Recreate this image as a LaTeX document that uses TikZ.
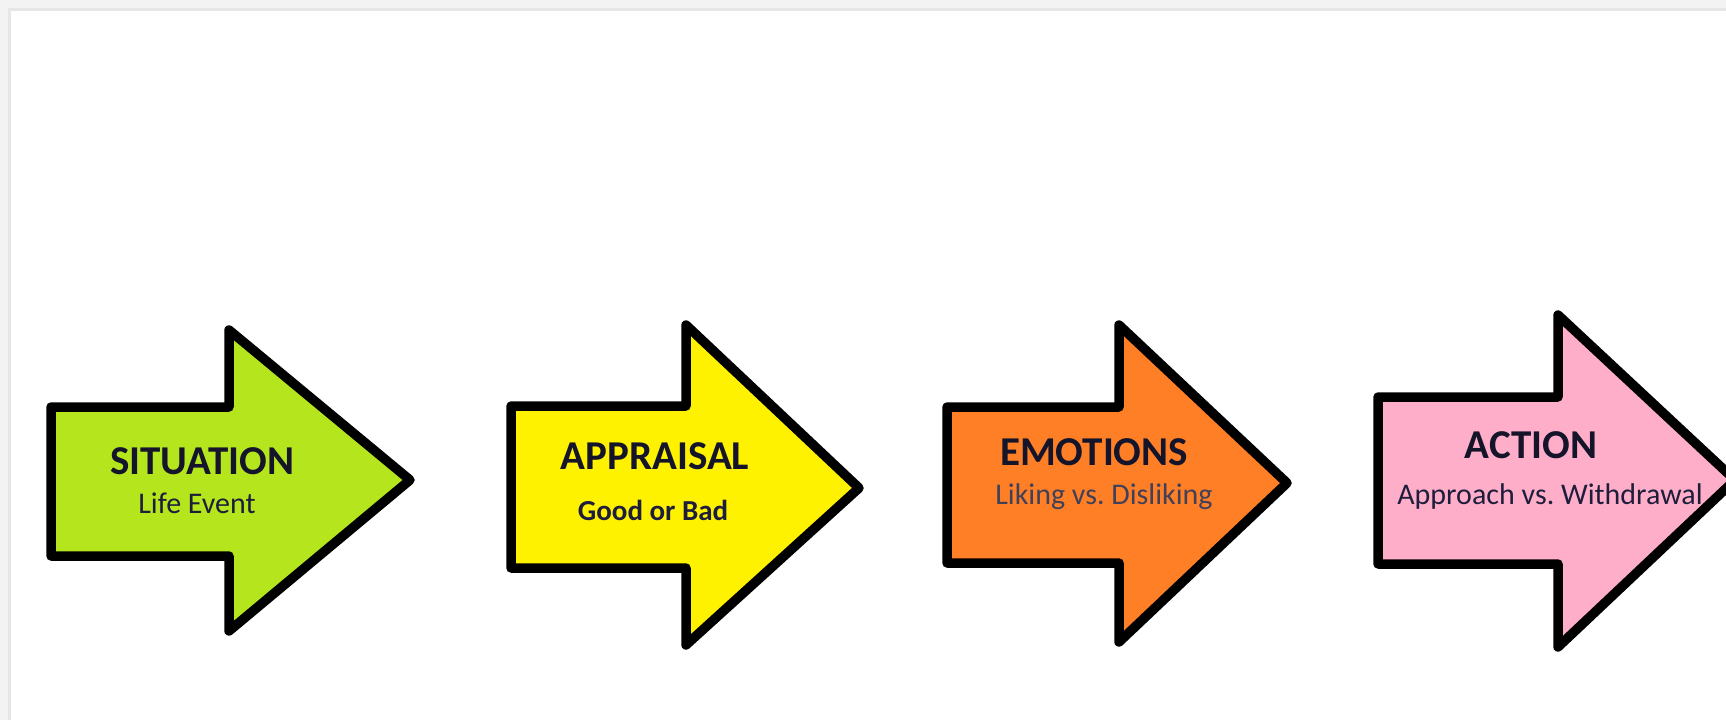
\documentclass[tikz,border=0pt]{standalone}
\usepackage{fontspec}
\setmainfont{Carlito}
\frenchspacing
\definecolor{lime}{HTML}{B5E61D}
\definecolor{sun}{HTML}{FFF200}
\definecolor{tangerine}{HTML}{FF7F27}
\definecolor{rose}{HTML}{FFAEC9}
\definecolor{ink}{HTML}{14142A}
\definecolor{slate}{HTML}{1E1E3C}
\definecolor{frame}{HTML}{F3F3F3}
\definecolor{frameline}{HTML}{E6E6E6}

\begin{document}
\begin{tikzpicture}[x=1pt, y=-1pt]
    \tikzset{%
      blockarrow/.style={draw=black, line width=9.5pt, line join=round},
      title/.style={anchor=base, inner sep=0pt, text=ink,
        font=\fontsize{41}{49}\selectfont\bfseries},
      sub/.style={anchor=base, inner sep=0pt, text=slate,
        font=\fontsize{30}{36}\selectfont},
    }
    \useasboundingbox (0,0) rectangle (1726,720);
    \clip (0,0) rectangle (1726,720);
    % window frame
    \fill [frame] (0,0) rectangle (1726,720);
    \fill [frameline] (8,8) rectangle (1726,720);
    \fill [white] (11,11) rectangle (1726,720);

    \draw [blockarrow, fill=lime] (51,407) -- (229,407) -- (229,330)
      -- (410,480) -- (229,631) -- (229,556) -- (51,556) -- cycle;
    \node[title] (S) at (202,474) {SITUATION};
    \node[sub] (S1) at (197,513) {Life Event};

    \draw [blockarrow, fill=sun] (511,406) -- (686,406) -- (686,325)
      -- (859,488) -- (686,645) -- (686,568) -- (511,568) -- cycle;
    \node[title] (P) at (655,469) {APPRAISAL};
    \node[sub, font=\fontsize{29}{35}\selectfont\bfseries] (P1) at (653,520) {Good or Bad};

    \draw [blockarrow, fill=tangerine] (947,407) -- (1119,407) -- (1119,325)
      -- (1287,483) -- (1119,642) -- (1119,563) -- (947,563) -- cycle;
    \node[title] (E) at (1094,465) {EMOTIONS};
    \node[sub, text=slate!85!white] (E1) at (1104,504) {Liking vs. Disliking};

    \draw [blockarrow, fill=rose] (1378,397) -- (1558,397) -- (1558,315)
      -- (1735,480) -- (1558,647) -- (1558,564) -- (1378,564) -- cycle;
    \node[title] (A) at (1531,458) {ACTION};
    \node[sub] (A1) at (1550,504) {Approach vs. Withdrawal};
\end{tikzpicture}
\end{document}
